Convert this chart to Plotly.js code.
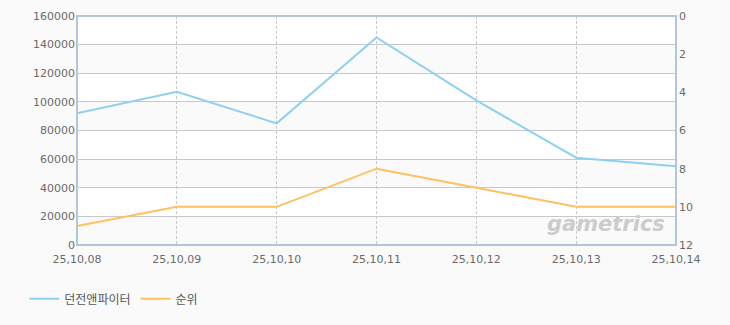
<!DOCTYPE html>
<html><head><meta charset="utf-8">
<script src="https://cdn.plot.ly/plotly-3.0.1.min.js"></script>
<style>html,body{margin:0;padding:0;background:#fafafa;}</style>
</head><body>
<div id="chart" style="width:730px;height:325px;"></div>
<script>
const dates = ["25,10,08","25,10,09","25,10,10","25,10,11","25,10,12","25,10,13","25,10,14"];
const users = [92000, 107000, 85000, 145000, 101000, 61000, 55000];
const rank = [11, 10, 10, 8, 9, 10, 10];
const leftTicks = [0,20000,40000,60000,80000,100000,120000,140000,160000];
const rightTicks = [0,2,4,6,8,10,12];
const seriesNames = ["던전앤파이터","순위"];

const font = {family: "DejaVu Sans, Noto Sans CJK KR, sans-serif", size: 11, color: "#6a6a6a"};

const shapes = [];
for (let i = 0; i < leftTicks.length - 1; i++) {
  if (i % 2 === 0) {
    shapes.push({type:"rect", xref:"paper", yref:"y", x0:0, x1:1, y0:leftTicks[i], y1:leftTicks[i+1],
      fillcolor:"#fafafa", line:{width:0}, layer:"below"});
  }
}
shapes.push({type:"rect", xref:"paper", yref:"paper", x0:0, x1:1, y0:0, y1:1,
  line:{color:"#b3c6d9", width:2}, fillcolor:"rgba(0,0,0,0)"});

const data = [
  {x: dates, y: users, name: seriesNames[0], type:"scatter", mode:"lines",
   line:{color:"#8fd0f0", width:2}, yaxis:"y"},
  {x: dates, y: rank, name: seriesNames[1], type:"scatter", mode:"lines",
   line:{color:"#ffc060", width:2}, yaxis:"y2"}
];

const layout = {
  width:730, height:325,
  margin:{l:77, r:54, t:16, b:78},
  paper_bgcolor:"#fafafa", plot_bgcolor:"#ffffff",
  font: font,
  showlegend:true,
  legend:{orientation:"h", x:-0.088, xanchor:"left", y:-0.235, yanchor:"middle",
    font:{family:"DejaVu Sans, Noto Sans CJK KR, sans-serif", size:12, color:"#555"},
    itemwidth:30, bgcolor:"rgba(0,0,0,0)", traceorder:"normal"},
  xaxis:{type:"category", range:[0, dates.length-1], showgrid:true, gridcolor:"#c8c8c8",
    griddash:"3px,2px", gridwidth:1, zeroline:false, showline:false, ticks:"",
    ticklabelstandoff:6, tickfont:font, fixedrange:true},
  yaxis:{range:[0,160000], tickvals:leftTicks, ticktext:leftTicks.map(String),
    showgrid:true, gridcolor:"#c8c8c8", gridwidth:1, zeroline:false, showline:false,
    ticks:"", ticklabelstandoff:1, tickfont:font},
  yaxis2:{overlaying:"y", side:"right", range:[12,0], tickvals:rightTicks,
    showgrid:false, zeroline:false, showline:false, ticks:"", ticklabelstandoff:2, tickfont:font},
  shapes: shapes,
  annotations:[{text:"<b><i>gametrics</i></b>", xref:"paper", yref:"paper", x:0.985, y:0.03,
    xanchor:"right", yanchor:"bottom", showarrow:false,
    font:{family:"DejaVu Sans, sans-serif", size:21, color:"#cccccc"}}]
};

Plotly.newPlot("chart", data, layout, {displayModeBar:false, staticPlot:true});
</script>
</body></html>
